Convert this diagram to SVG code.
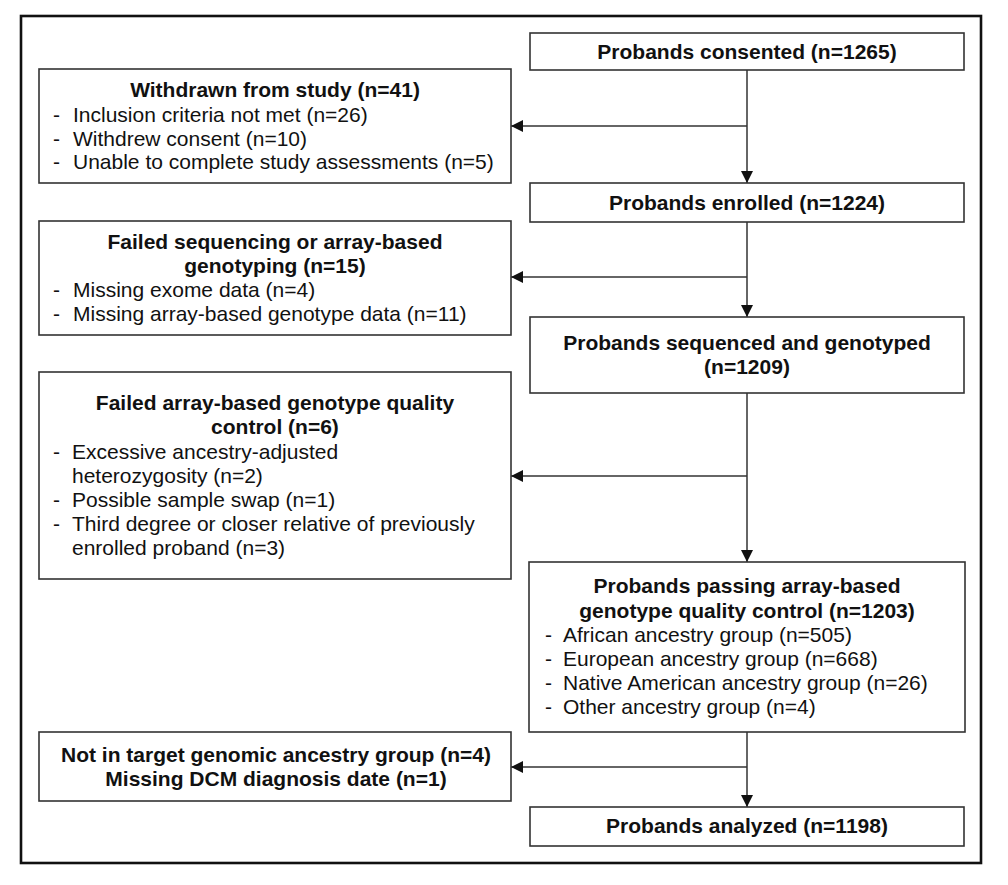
<svg xmlns="http://www.w3.org/2000/svg" width="1008" height="885" viewBox="0 0 1008 885">
<defs>
<marker id="arr" viewBox="0 0 12 12" markerUnits="userSpaceOnUse" markerWidth="12" markerHeight="12" refX="12" refY="6" orient="auto">
<path d="M0,0 L12,6 L0,12 z" fill="#111"/>
</marker>
</defs>
<style>
.box{fill:#fff;stroke:#333;stroke-width:1.6}
.frame{fill:none;stroke:#111;stroke-width:2.6}
.t{font-family:"Liberation Sans",Arial,sans-serif;font-size:21px;fill:#111}
.b{font-weight:bold}
.c{text-anchor:middle}
.con{stroke:#333;stroke-width:1.5;fill:none}
</style>
<rect width="1008" height="885" fill="#fff"/>
<rect class="frame" x="21" y="16" width="960" height="847"/>

<g id="connectors">
<line class="con" x1="747" y1="70" x2="747" y2="183" marker-end="url(#arr)"/>
<line class="con" x1="747" y1="126" x2="511" y2="126" marker-end="url(#arr)"/>
<line class="con" x1="747" y1="222" x2="747" y2="317" marker-end="url(#arr)"/>
<line class="con" x1="747" y1="277" x2="511" y2="277" marker-end="url(#arr)"/>
<line class="con" x1="747" y1="393" x2="747" y2="562" marker-end="url(#arr)"/>
<line class="con" x1="747" y1="476" x2="511" y2="476" marker-end="url(#arr)"/>
<line class="con" x1="747" y1="732" x2="747" y2="807" marker-end="url(#arr)"/>
<line class="con" x1="747" y1="767" x2="511" y2="767" marker-end="url(#arr)"/>
</g>

<g id="consented">
<rect class="box" x="530" y="33" width="434" height="37"/>
<text class="t b c" x="747" y="59">Probands consented (n=1265)</text>
</g>

<g id="withdrawn">
<rect class="box" x="39" y="69" width="472" height="114"/>
<text class="t b c" x="275" y="97">Withdrawn from study (n=41)</text>
<text class="t" x="53" y="122">-</text><text class="t" x="73" y="122">Inclusion criteria not met (n=26)</text>
<text class="t" x="53" y="146">-</text><text class="t" x="73" y="146">Withdrew consent (n=10)</text>
<text class="t" x="53" y="169">-</text><text class="t" x="73" y="169">Unable to complete study assessments (n=5)</text>
</g>

<g id="enrolled">
<rect class="box" x="530" y="183" width="434" height="39"/>
<text class="t b c" x="747" y="210">Probands enrolled (n=1224)</text>
</g>

<g id="failed-seq">
<rect class="box" x="39" y="221" width="472" height="114"/>
<text class="t b c" x="275" y="249">Failed sequencing or array-based</text>
<text class="t b c" x="275" y="273">genotyping (n=15)</text>
<text class="t" x="53" y="297">-</text><text class="t" x="73" y="297">Missing exome data (n=4)</text>
<text class="t" x="53" y="321">-</text><text class="t" x="73" y="321">Missing array-based genotype data (n=11)</text>
</g>

<g id="sequenced">
<rect class="box" x="530" y="317" width="434" height="76"/>
<text class="t b c" x="747" y="350">Probands sequenced and genotyped</text>
<text class="t b c" x="747" y="374">(n=1209)</text>
</g>

<g id="failed-qc">
<rect class="box" x="39" y="372" width="472" height="207"/>
<text class="t b c" x="275" y="410">Failed array-based genotype quality</text>
<text class="t b c" x="275" y="434">control (n=6)</text>
<text class="t" x="53" y="459">-</text><text class="t" x="72" y="459">Excessive ancestry-adjusted</text>
<text class="t" x="72" y="483">heterozygosity (n=2)</text>
<text class="t" x="53" y="507">-</text><text class="t" x="72" y="507">Possible sample swap (n=1)</text>
<text class="t" x="53" y="531">-</text><text class="t" x="72" y="531">Third degree or closer relative of previously</text>
<text class="t" x="72" y="555">enrolled proband (n=3)</text>
</g>

<g id="passing">
<rect class="box" x="529" y="562" width="436" height="170"/>
<text class="t b c" x="747" y="593">Probands passing array-based</text>
<text class="t b c" x="747" y="618">genotype quality control (n=1203)</text>
<text class="t" x="545" y="642">-</text><text class="t" x="563" y="642">African ancestry group (n=505)</text>
<text class="t" x="545" y="666">-</text><text class="t" x="563" y="666">European ancestry group (n=668)</text>
<text class="t" x="545" y="690">-</text><text class="t" x="563" y="690">Native American ancestry group (n=26)</text>
<text class="t" x="545" y="714">-</text><text class="t" x="563" y="714">Other ancestry group (n=4)</text>
</g>

<g id="excluded">
<rect class="box" x="39" y="732" width="472" height="69"/>
<text class="t b c" x="276" y="762">Not in target genomic ancestry group (n=4)</text>
<text class="t b c" x="276" y="786">Missing DCM diagnosis date (n=1)</text>
</g>

<g id="analyzed">
<rect class="box" x="530" y="807" width="434" height="39"/>
<text class="t b c" x="747" y="833">Probands analyzed (n=1198)</text>
</g>
</svg>
